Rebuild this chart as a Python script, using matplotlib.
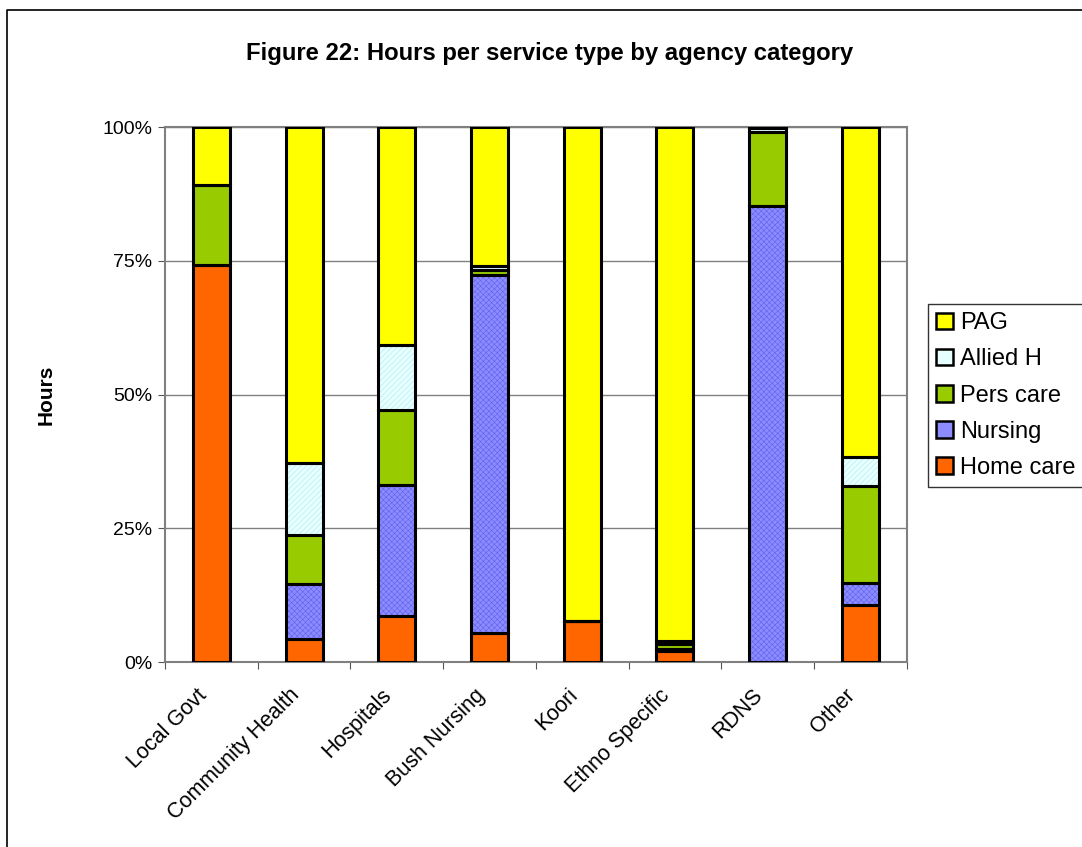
import numpy as np
import matplotlib.pyplot as plt
import matplotlib.transforms as mtransforms
from matplotlib.lines import Line2D
from matplotlib.patches import Patch

# agency categories and share of hours (%) per service type
categories = ["Local Govt", "Community Health", "Hospitals", "Bush Nursing",
              "Koori", "Ethno Specific", "RDNS", "Other"]
home_care = [74.3, 4.3, 8.6, 5.4, 7.7, 2.0, 0.0, 10.7]
nursing = [0.0, 10.3, 24.5, 66.9, 0.0, 0.5, 85.2, 4.1]
pers_care = [14.8, 9.1, 14.0, 1.0, 0.0, 0.8, 13.9, 18.1]
allied_h = [0.0, 13.5, 12.2, 0.7, 0.0, 0.6, 0.7, 5.4]
pag = [100 - a - b - c - d for a, b, c, d in zip(home_care, nursing, pers_care, allied_h)]

series = [
    ("Home care", home_care, "#ff6600", None, None),
    ("Nursing", nursing, "#8c8cff", "#6060ee", "xxxxxx"),
    ("Pers care", pers_care, "#99cc00", None, None),
    ("Allied H", allied_h, "#e6ffff", "#b0e6f0", "//////"),
    ("PAG", pag, "#ffff00", None, None),
]

plt.rcParams['font.family'] = ['Liberation Sans', 'DejaVu Sans']
plt.rcParams['hatch.linewidth'] = 0.4

fig = plt.figure(figsize=(10.82, 8.47), dpi=100)
ax = fig.add_axes([0.1525, 0.2184, 0.6855, 0.6316])

x = np.arange(len(categories))
width = 0.4
bottom = np.zeros(len(categories))
handles = []
for name, vals, face, hcol, hatch in series:
    vals = np.array(vals)
    if hatch:
        ax.bar(x, vals, width, bottom=bottom, color=face, edgecolor=hcol,
               hatch=hatch, linewidth=0, zorder=3)
        ax.bar(x, vals, width, bottom=bottom, facecolor="none",
               edgecolor="black", linewidth=2.2, zorder=4)
    else:
        ax.bar(x, vals, width, bottom=bottom, color=face,
               edgecolor="black", linewidth=2.2, zorder=3)
    handles.append(Patch(facecolor=face, edgecolor="black", linewidth=1.8))
    bottom += vals

ax.set_xlim(-0.5, len(categories) - 0.5)
ax.set_ylim(0, 100)
ax.set_yticks([0, 25, 50, 75, 100])
ax.set_yticklabels(["0%", "25%", "50%", "75%", "100%"], fontsize=14)
ax.set_xticks(np.arange(len(categories) + 1) - 0.5)
ax.set_xticklabels([])
ax.set_xticks(x, minor=True)
ax.set_xticklabels(categories, minor=True, rotation=45, ha="right", va="center",
                   rotation_mode="anchor", fontsize=15.5)
ax.tick_params(axis="x", which="minor", length=0, pad=16)
ax.tick_params(axis="x", which="major", length=5, color="#555555")
ax.tick_params(axis="y", length=5, color="#555555", pad=4)
# nudge the slanted category names down and to the left
shift = mtransforms.ScaledTranslation(-8 / 100, -8 / 100, fig.dpi_scale_trans)
for lbl in ax.get_xticklabels(minor=True):
    lbl.set_transform(lbl.get_transform() + shift)
ax.yaxis.grid(True, color="#808080", linewidth=1, zorder=0)
for s in ax.spines.values():
    s.set_color("#808080")
    s.set_linewidth(1.5)

ax.set_ylabel("Hours", fontsize=15, fontweight="bold", labelpad=34)
fig.text(0.508, 0.937, "Figure 22: Hours per service type by agency category",
         ha="center", va="center", fontsize=17.2, fontweight="bold")

leg = fig.legend(handles[::-1], [s[0] for s in series][::-1],
                 loc="upper left", bbox_to_anchor=(928 / 1082, 1 - 304 / 847),
                 fontsize=17, frameon=True, fancybox=False,
                 handlelength=0.7, handleheight=0.7, handletextpad=0.3,
                 labelspacing=0.6, borderpad=0.35, borderaxespad=0)
leg.get_frame().set_edgecolor("black")
leg.get_frame().set_linewidth(1)

# chart-area border along the top and left edges
fig.add_artist(Line2D([7 / 1082, 7 / 1082, 1.0], [0.0, 1 - 10 / 847, 1 - 10 / 847],
                      transform=fig.transFigure, color="black", linewidth=1.2))

fig.savefig("out.png", dpi=100)
